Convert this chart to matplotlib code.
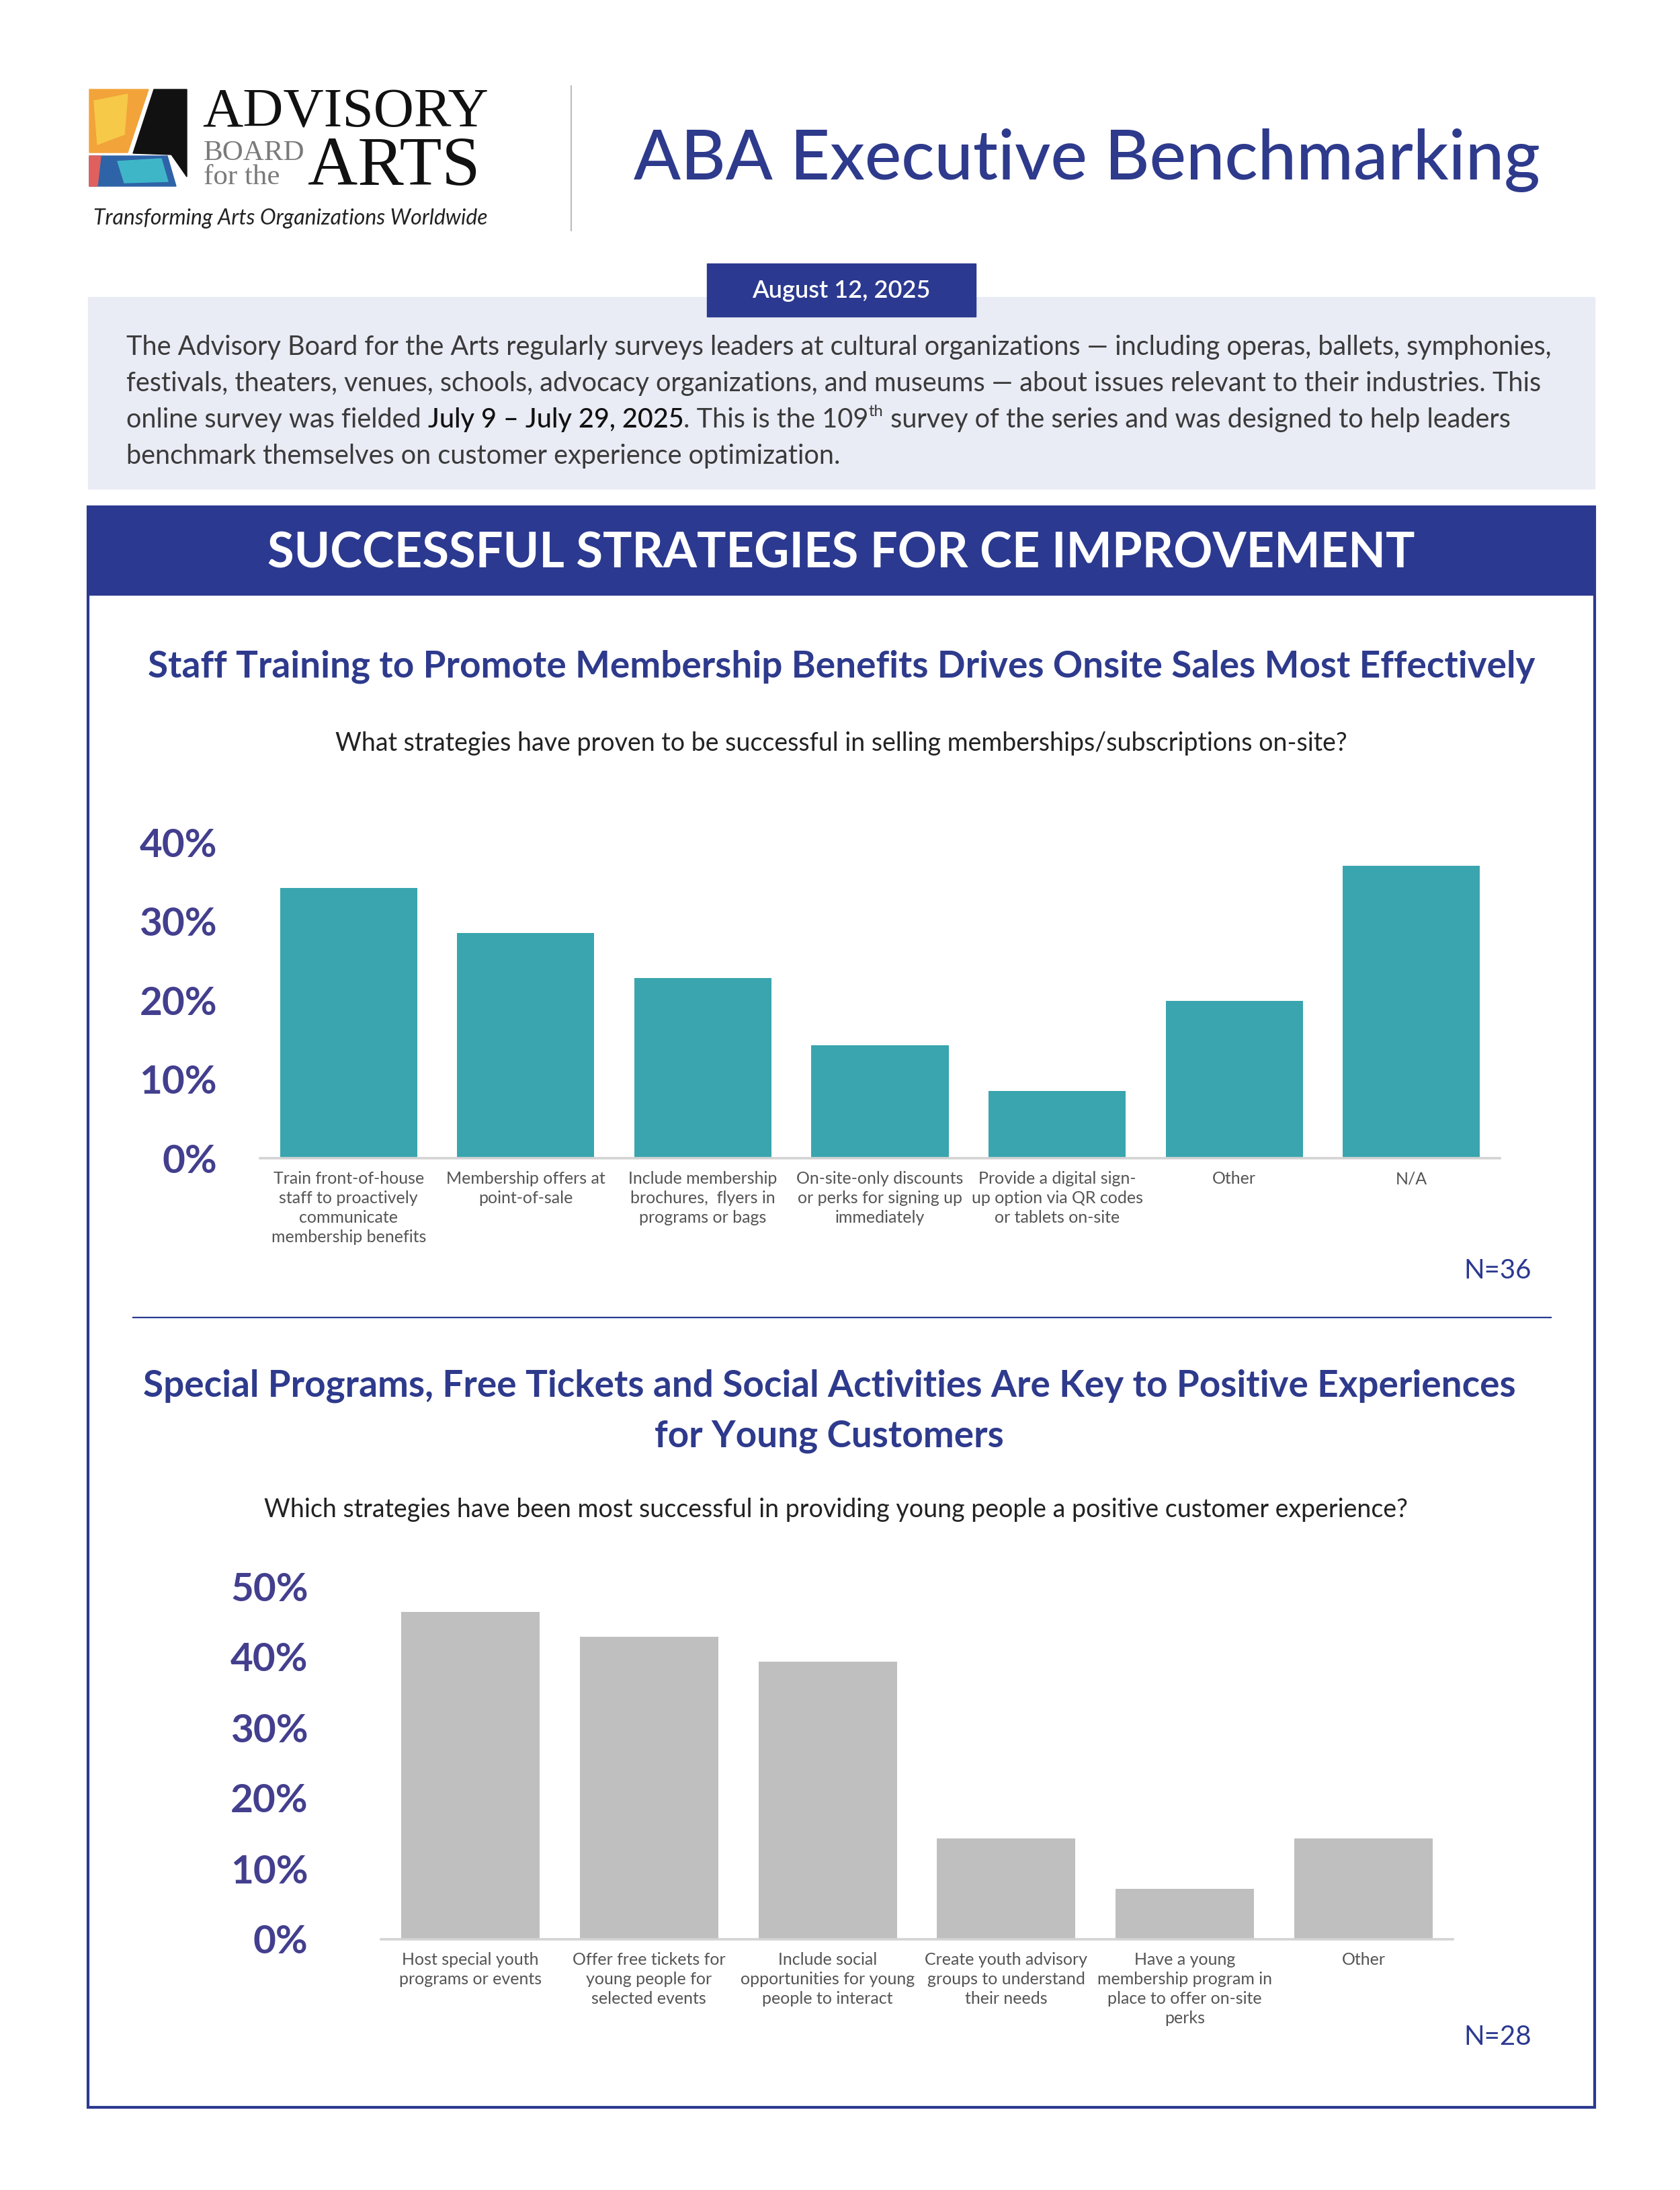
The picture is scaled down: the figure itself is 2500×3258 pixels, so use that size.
import matplotlib
matplotlib.use("Agg")
import matplotlib.pyplot as plt
from matplotlib.patches import Rectangle, Polygon

plt.rcParams['font.family'] = ['Lato', 'DejaVu Sans']

# --- data -------------------------------------------------------------
onsite_strategies = [
    "Train front-of-house\nstaff to proactively\ncommunicate\nmembership benefits",
    "Membership offers at\npoint-of-sale",
    "Include membership\nbrochures,  flyers in\nprograms or bags",
    "On-site-only discounts\nor perks for signing up\nimmediately",
    "Provide a digital sign-\nup option via QR codes\nor tablets on-site",
    "Other",
    "N/A",
]
onsite_share = [34.2, 28.5, 22.8, 14.3, 8.5, 19.9, 37.0]
onsite_ticks = [0, 10, 20, 30, 40]
onsite_n = 36

youth_strategies = [
    "Host special youth\nprograms or events",
    "Offer free tickets for\nyoung people for\nselected events",
    "Include social\nopportunities for young\npeople to interact",
    "Create youth advisory\ngroups to understand\ntheir needs",
    "Have a young\nmembership program in\nplace to offer on-site\nperks",
    "Other",
]
youth_share = [46.4, 42.9, 39.3, 14.3, 7.1, 14.3]
youth_ticks = [0, 10, 20, 30, 40, 50]
youth_n = 28

NAVY = '#2B3990'
TITLE_BLUE = '#2E3A8C'
TICK_PURPLE = '#433F8E'
TEAL = '#3AA5AE'
GREY_BAR = '#BFBFBF'
BODY = '#3A3A3A'

W, H = 2500, 3258
fig = plt.figure(figsize=(W / 100, H / 100), dpi=100)
page = fig.add_axes([0, 0, 1, 1])
page.set_xlim(0, W)
page.set_ylim(H, 0)
page.axis('off')


def px_axes(x0, y0, x1, y1):
    return fig.add_axes([x0 / W, 1 - y1 / H, (x1 - x0) / W, (y1 - y0) / H])


# --- logo -------------------------------------------------------------
page.add_patch(Polygon([(133, 133), (221, 133), (190, 227), (133, 227)], color='#F2A33A'))
page.add_patch(Polygon([(140, 150), (190, 140), (185, 200), (145, 215)], color='#F7C948'))
page.add_patch(Polygon([(133, 232), (249, 232), (262, 277), (133, 277)], color='#2F63A8'))
page.add_patch(Polygon([(175, 240), (240, 236), (250, 270), (185, 272)], color='#3FB6C8'))
page.add_patch(Polygon([(133, 232), (150, 232), (145, 277), (133, 277)], color='#E0605E'))
page.add_patch(Polygon([(229, 133), (278, 133), (278, 263), (255, 230), (198, 228)], color='#111111'))
page.text(301, 188, "ADVISORY", family='Liberation Serif', fontsize=60, color='#111111', va='baseline')
page.text(303, 238, "BOARD", family='Liberation Serif', fontsize=31, color='#7A7A7A', va='baseline')
page.text(303, 274, "for the", family='Liberation Serif', fontsize=31, color='#7A7A7A', va='baseline')
page.text(458, 275, "ARTS", family='Liberation Serif', fontsize=74, color='#111111', va='baseline')
page.text(139, 334, "Transforming Arts Organizations Worldwide", fontsize=23,
          style='italic', color='#222222', va='baseline')
page.plot([850, 850], [128, 343], color='#BBBBBB', lw=1.5)

page.text(1617, 238, "ABA Executive Benchmarking", fontsize=74, color=TITLE_BLUE,
          ha='center', va='center', fontweight='medium')

# --- intro panel ------------------------------------------------------
page.add_patch(Rectangle((131, 442), 2242, 285, color='#E9EBF5', zorder=1))
page.add_patch(Rectangle((1052, 392), 400, 79, color=NAVY, zorder=2))
page.text(1252, 432, "August 12, 2025", fontsize=26, color='white', fontweight='semibold',
          ha='center', va='center', zorder=3)

para = dict(fontsize=28.5, color=BODY, fontweight='normal', va='baseline', zorder=3)
page.text(188, 528, "The Advisory Board for the Arts regularly surveys leaders at cultural "
          "organizations \u2014 including operas, ballets, symphonies,", **para)
page.text(188, 582, "festivals, theaters, venues, schools, advocacy organizations, and museums "
          "\u2014 about issues relevant to their industries. This", **para)
t1 = page.text(188, 636, "online survey was fielded ", **para)
t2 = page.annotate("July 9 \u2013 July 29, 2025", xy=(1, 0), xycoords=t1, va='bottom',
                   fontsize=28.5, color='#111111', fontweight='medium', zorder=3)
t3 = page.annotate(". This is the 109", xy=(1, 0), xycoords=t2, va='bottom', fontsize=28.5,
                   color=BODY, zorder=3)
t4 = page.annotate("th", xy=(1, 0.55), xycoords=t3, va='bottom', fontsize=17,
                   color=BODY, zorder=3)
page.annotate(" survey of the series and was designed to help leaders", xy=(1, 0),
              xycoords=t3, xytext=(t4.get_fontsize() * 0.95, 0), textcoords='offset points',
              va='bottom', fontsize=28.5, color=BODY, zorder=3)
page.text(188, 690, "benchmark themselves on customer experience optimization.", **para)

# --- main box ---------------------------------------------------------
page.add_patch(Rectangle((131, 754), 2242, 2381, fill=False, edgecolor=NAVY, lw=3, zorder=4))
page.add_patch(Rectangle((131, 754), 2242, 131, color=NAVY, zorder=3))
page.text(1252, 824, "SUCCESSFUL STRATEGIES FOR CE IMPROVEMENT", fontsize=52, color='white',
          fontweight='bold', ha='center', va='center', zorder=5)

page.text(1252, 992, "Staff Training to Promote Membership Benefits Drives Onsite Sales Most Effectively",
          fontsize=39.5, color=TITLE_BLUE, fontweight='bold', ha='center', va='center')
page.text(1252, 1106, "What strategies have proven to be successful in selling "
          "memberships/subscriptions on-site?", fontsize=27, color='#222222',
          ha='center', va='center')

page.plot([198, 2308], [1960, 1960], color=NAVY, lw=1.6)

page.text(1234, 2062, "Special Programs, Free Tickets and Social Activities Are Key to Positive Experiences",
          fontsize=39.5, color=TITLE_BLUE, fontweight='bold', ha='center', va='center')
page.text(1234, 2137, "for Young Customers", fontsize=39.5, color=TITLE_BLUE,
          fontweight='bold', ha='center', va='center')
page.text(1244, 2246, "Which strategies have been most successful in providing young people "
          "a positive customer experience?", fontsize=27, color='#222222',
          ha='center', va='center')


# --- charts -----------------------------------------------------------
def bar_chart(rect, labels, values, ticks, color, ypad):
    ax = px_axes(*rect)
    pos = list(range(len(values)))
    ax.bar(pos, values, width=0.775, color=color, zorder=2)
    ax.set_xlim(-0.5, len(values) - 0.5)
    ax.set_ylim(ticks[0], ticks[-1])
    for s in ['top', 'right', 'left']:
        ax.spines[s].set_visible(False)
    ax.spines['bottom'].set_color('#D3D3D3')
    ax.spines['bottom'].set_linewidth(2.6)
    ax.set_yticks(ticks, [f'{t}%' for t in ticks])
    ax.tick_params(axis='y', length=0, pad=ypad, labelsize=42, labelcolor=TICK_PURPLE)
    for lab in ax.get_yticklabels():
        lab.set_fontweight('bold')
    ax.set_xticks(pos, labels)
    ax.tick_params(axis='x', length=0, pad=14, labelsize=18, labelcolor='#555555')
    for lab in ax.get_xticklabels():
        lab.set_linespacing(1.3)
    ax.patch.set_alpha(0)
    return ax


bar_chart((387, 1253, 2232, 1723), onsite_strategies, onsite_share, onsite_ticks, TEAL, 46)
page.text(2279, 1890, f"N={onsite_n}", fontsize=29, color=NAVY, ha='right', va='center')

bar_chart((567, 2360, 2162, 2885), youth_strategies, youth_share, youth_ticks, GREY_BAR, 78)
page.text(2279, 3031, f"N={youth_n}", fontsize=29, color=NAVY, ha='right', va='center')

fig.savefig("out.png", dpi=100)
